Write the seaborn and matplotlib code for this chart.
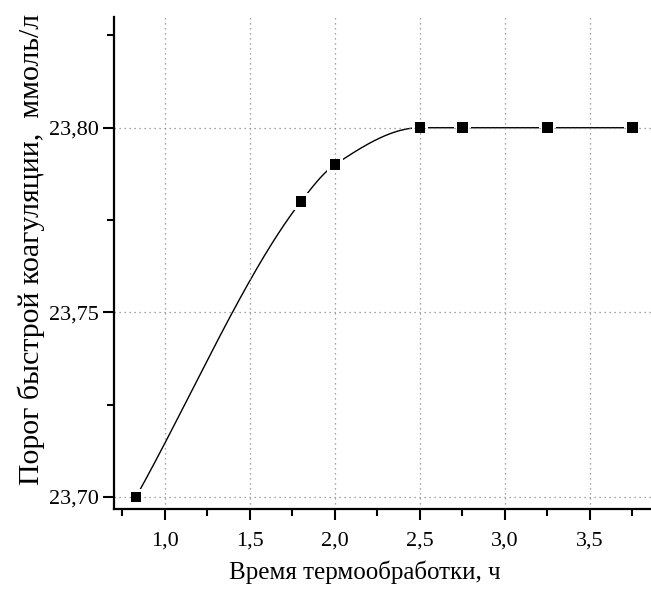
import numpy as np
import pandas as pd
import seaborn as sns
import matplotlib
matplotlib.use("Agg")
import matplotlib.pyplot as plt
from matplotlib.ticker import MultipleLocator, FuncFormatter

# Measured points: heat-treatment time (h) vs. rapid-coagulation threshold (mmol/L)
time_h = [0.83, 1.8, 2.0, 2.5, 2.75, 3.25, 3.75]
threshold = [23.70, 23.78, 23.79, 23.80, 23.80, 23.80, 23.80]

x_label = "Время термообработки, ч"
y_label = "Порог быстрой коагуляции,  ммоль/л"


def pchip(x, y, xn):
    """Shape-preserving piecewise cubic Hermite curve through (x, y)."""
    x = np.asarray(x, float)
    y = np.asarray(y, float)
    h = np.diff(x)
    d = np.diff(y) / h
    n = len(x)
    m = np.zeros(n)
    for k in range(1, n - 1):
        if d[k - 1] * d[k] > 0:
            w1 = 2 * h[k] + h[k - 1]
            w2 = h[k] + 2 * h[k - 1]
            m[k] = (w1 + w2) / (w1 / d[k - 1] + w2 / d[k])
    # end slopes follow the neighbouring secants
    m[0] = d[0]
    m[-1] = d[-1]

    idx = np.clip(np.searchsorted(x, xn) - 1, 0, n - 2)
    t = (xn - x[idx]) / h[idx]
    h00 = 2 * t**3 - 3 * t**2 + 1
    h10 = t**3 - 2 * t**2 + t
    h01 = -2 * t**3 + 3 * t**2
    h11 = t**3 - t**2
    return (h00 * y[idx] + h10 * h[idx] * m[idx]
            + h01 * y[idx + 1] + h11 * h[idx] * m[idx + 1])


sns.set_theme(style="white")
plt.rcParams["font.family"] = ["Liberation Serif", "DejaVu Serif"]

fig = plt.figure(figsize=(6.51, 5.99), dpi=100)
ax = fig.add_axes([114 / 651, 1 - 509 / 599, 1 - 114 / 651, (509 - 17) / 599])

points = pd.DataFrame({"t": time_h, "c": threshold})
x_fine = np.linspace(time_h[0], time_h[-1], 400)
curve = pd.DataFrame({"t": x_fine, "c": pchip(time_h, threshold, x_fine)})

sns.lineplot(data=curve, x="t", y="c", ax=ax, color="black", lw=1.0,
             zorder=1, sort=False)
# white halo keeps the curve clear of the symbols
sns.scatterplot(data=points, x="t", y="c", ax=ax, marker="s", s=140,
                color="white", edgecolor="none", zorder=1.2, legend=False)
sns.scatterplot(data=points, x="t", y="c", ax=ax, marker="s", s=58,
                color="black", edgecolor="none", zorder=3, legend=False)

ax.set_xlim(0.70, 3.86)
ax.set_ylim(23.6967, 23.830)

ax.xaxis.set_major_locator(MultipleLocator(0.5))
ax.xaxis.set_minor_locator(MultipleLocator(0.25))
ax.yaxis.set_major_locator(MultipleLocator(0.05))
ax.yaxis.set_minor_locator(MultipleLocator(0.025))
ax.xaxis.set_major_formatter(FuncFormatter(lambda v, p: f"{v:.1f}".replace(".", ",")))
ax.yaxis.set_major_formatter(FuncFormatter(lambda v, p: f"{v:.2f}".replace(".", ",")))

ax.set_axisbelow("line")
ax.grid(True, which="major", color="#888888", linestyle=(0, (1, 3)), lw=0.9)
for gl in ax.get_xgridlines() + ax.get_ygridlines():
    gl.set_zorder(1.5)

for side in ("top", "right"):
    ax.spines[side].set_visible(False)
for side in ("left", "bottom"):
    ax.spines[side].set_color("black")
    ax.spines[side].set_linewidth(1.6)

ax.tick_params(which="major", direction="out", length=8, width=1.5,
               color="black", labelsize=16, labelcolor="black", pad=3,
               left=True, bottom=True)
ax.tick_params(axis="x", which="major", pad=8)
ax.tick_params(which="minor", direction="out", length=5, width=1.5,
               color="black", left=True, bottom=True)

ax.set_xlabel(x_label, fontsize=18, color="black")
ax.set_ylabel(y_label, fontsize=21.5, color="black")
ax.xaxis.set_label_coords((365 - 114) / (651 - 114), -(560 - 509) / (509 - 17))
ax.yaxis.set_label_coords(-(114 - 45) / (651 - 114), (509 - 249) / (509 - 17))

fig.savefig("out.png", dpi=100, facecolor="white")
